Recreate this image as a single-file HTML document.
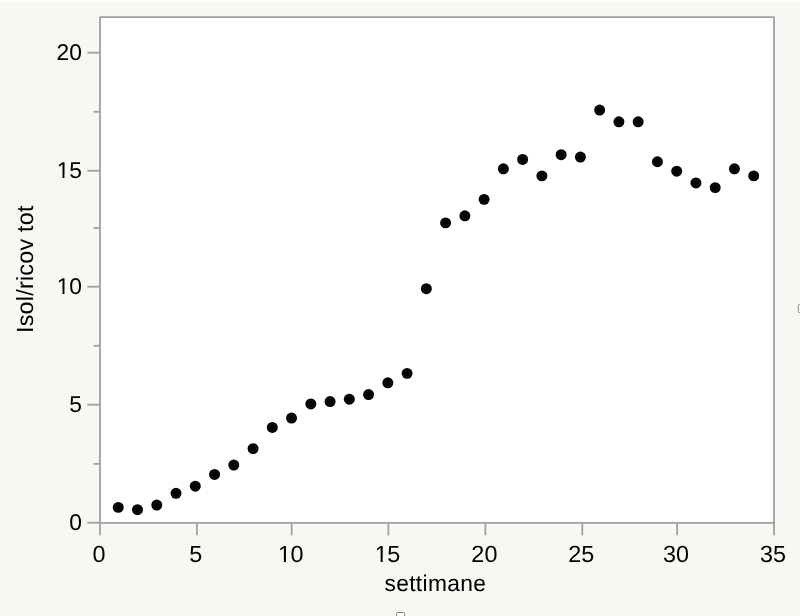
<!DOCTYPE html>
<html><head><meta charset="utf-8"><title>plot</title>
<style>
html,body{margin:0;padding:0;background:#f7f7f3;overflow:hidden}
svg{display:block;will-change:transform}
text{font-family:"Liberation Sans",sans-serif;font-size:23.4px;letter-spacing:0.1px;fill:#000;text-rendering:geometricPrecision}
</style></head><body>
<svg width="800" height="616" viewBox="0 0 800 616">
<rect x="100" y="17.1" width="674" height="505.7" fill="#fff" stroke="#a0a0a0" stroke-width="1.8" stroke-linejoin="round"/>
<g stroke="#a0a0a0" stroke-width="1.8" fill="none">
<line x1="87.3" x2="100" y1="522.70" y2="522.70"/>
<line x1="87.3" x2="100" y1="404.70" y2="404.70"/>
<line x1="87.3" x2="100" y1="286.70" y2="286.70"/>
<line x1="87.3" x2="100" y1="170.75" y2="170.75"/>
<line x1="87.3" x2="100" y1="52.70" y2="52.70"/>
<line x1="93.6" x2="100" y1="463.90" y2="463.90"/>
<line x1="93.6" x2="100" y1="345.80" y2="345.80"/>
<line x1="93.6" x2="100" y1="227.90" y2="227.90"/>
<line x1="93.6" x2="100" y1="111.80" y2="111.80"/>
<line y1="522.8" y2="535.2" x1="100.00" x2="100.00"/>
<line y1="522.8" y2="535.2" x1="196.90" x2="196.90"/>
<line y1="522.8" y2="535.2" x1="291.65" x2="291.65"/>
<line y1="522.8" y2="535.2" x1="388.40" x2="388.40"/>
<line y1="522.8" y2="535.2" x1="485.40" x2="485.40"/>
<line y1="522.8" y2="535.2" x1="582.30" x2="582.30"/>
<line y1="522.8" y2="535.2" x1="677.10" x2="677.10"/>
<line y1="522.8" y2="535.2" x1="774.00" x2="774.00"/>
</g>
<text x="82.10" y="530.20" text-anchor="end" style="font-size:22.8px">0</text>
<text x="82.10" y="412.20" text-anchor="end" style="font-size:22.8px">5</text>
<text x="81.50" y="294.20" text-anchor="end" style="font-size:22.8px"><tspan dx="0.45">1</tspan><tspan dx="-0.45">0</tspan></text>
<text x="81.50" y="178.25" text-anchor="end" style="font-size:22.8px"><tspan dx="0.45">1</tspan><tspan dx="-0.45">5</tspan></text>
<text x="82.10" y="60.20" text-anchor="end" style="font-size:22.8px">20</text>
<text x="99.00" y="561.7" text-anchor="middle">0</text>
<text x="195.90" y="561.7" text-anchor="middle">5</text>
<text x="290.35" y="561.7" text-anchor="middle"><tspan dx="0.45">1</tspan><tspan dx="-0.45">0</tspan></text>
<text x="387.10" y="561.7" text-anchor="middle"><tspan dx="0.45">1</tspan><tspan dx="-0.45">5</tspan></text>
<text x="484.40" y="561.7" text-anchor="middle">20</text>
<text x="581.30" y="561.7" text-anchor="middle">25</text>
<text x="676.10" y="561.7" text-anchor="middle">30</text>
<text x="773.00" y="561.7" text-anchor="middle">35</text>
<text x="435.4" y="591.3" text-anchor="middle" style="font-size:22.8px;letter-spacing:0.35px">settimane</text>
<text transform="translate(33.15 269.2) rotate(-90)" text-anchor="middle" style="letter-spacing:0.2px">Isol/ricov tot</text>
<g fill="#f7f7f3">
<rect x="57.29" y="291.40" width="5.20" height="3.40"/>
<rect x="64.49" y="291.40" width="5.02" height="3.40"/>
<rect x="57.29" y="175.40" width="5.20" height="3.40"/>
<rect x="64.49" y="175.40" width="5.02" height="3.40"/>
<rect x="278.58" y="559.40" width="5.30" height="3.40"/>
<rect x="285.94" y="559.40" width="5.10" height="3.40"/>
<rect x="375.34" y="559.40" width="5.29" height="3.40"/>
<rect x="382.68" y="559.40" width="5.11" height="3.40"/>
</g>
<rect x="0" y="0" width="800" height="1" fill="#fefefd"/>
<rect x="0" y="1" width="800" height="1" fill="#fff" opacity="0.3"/>
<g fill="#000">
<circle cx="118.26" cy="507.39" r="5.48"/><circle cx="118.26" cy="507.39" r="3.65" fill="none" stroke="#1b1b1b" stroke-width="0.6"/>
<circle cx="137.51" cy="509.74" r="5.48"/><circle cx="137.51" cy="509.74" r="3.65" fill="none" stroke="#1b1b1b" stroke-width="0.6"/>
<circle cx="156.77" cy="505.04" r="5.48"/><circle cx="156.77" cy="505.04" r="3.65" fill="none" stroke="#1b1b1b" stroke-width="0.6"/>
<circle cx="176.02" cy="493.28" r="5.48"/><circle cx="176.02" cy="493.28" r="3.65" fill="none" stroke="#1b1b1b" stroke-width="0.6"/>
<circle cx="195.28" cy="486.23" r="5.48"/><circle cx="195.28" cy="486.23" r="3.65" fill="none" stroke="#1b1b1b" stroke-width="0.6"/>
<circle cx="214.54" cy="474.47" r="5.48"/><circle cx="214.54" cy="474.47" r="3.65" fill="none" stroke="#1b1b1b" stroke-width="0.6"/>
<circle cx="233.79" cy="465.07" r="5.48"/><circle cx="233.79" cy="465.07" r="3.65" fill="none" stroke="#1b1b1b" stroke-width="0.6"/>
<circle cx="253.05" cy="448.61" r="5.48"/><circle cx="253.05" cy="448.61" r="3.65" fill="none" stroke="#1b1b1b" stroke-width="0.6"/>
<circle cx="272.30" cy="427.45" r="5.48"/><circle cx="272.30" cy="427.45" r="3.65" fill="none" stroke="#1b1b1b" stroke-width="0.6"/>
<circle cx="291.56" cy="418.04" r="5.48"/><circle cx="291.56" cy="418.04" r="3.65" fill="none" stroke="#1b1b1b" stroke-width="0.6"/>
<circle cx="310.82" cy="403.94" r="5.48"/><circle cx="310.82" cy="403.94" r="3.65" fill="none" stroke="#1b1b1b" stroke-width="0.6"/>
<circle cx="330.07" cy="401.58" r="5.48"/><circle cx="330.07" cy="401.58" r="3.65" fill="none" stroke="#1b1b1b" stroke-width="0.6"/>
<circle cx="349.33" cy="399.23" r="5.48"/><circle cx="349.33" cy="399.23" r="3.65" fill="none" stroke="#1b1b1b" stroke-width="0.6"/>
<circle cx="368.58" cy="394.53" r="5.48"/><circle cx="368.58" cy="394.53" r="3.65" fill="none" stroke="#1b1b1b" stroke-width="0.6"/>
<circle cx="387.84" cy="382.77" r="5.48"/><circle cx="387.84" cy="382.77" r="3.65" fill="none" stroke="#1b1b1b" stroke-width="0.6"/>
<circle cx="407.10" cy="373.37" r="5.48"/><circle cx="407.10" cy="373.37" r="3.65" fill="none" stroke="#1b1b1b" stroke-width="0.6"/>
<circle cx="426.35" cy="288.72" r="5.48"/><circle cx="426.35" cy="288.72" r="3.65" fill="none" stroke="#1b1b1b" stroke-width="0.6"/>
<circle cx="445.61" cy="222.88" r="5.48"/><circle cx="445.61" cy="222.88" r="3.65" fill="none" stroke="#1b1b1b" stroke-width="0.6"/>
<circle cx="464.86" cy="215.83" r="5.48"/><circle cx="464.86" cy="215.83" r="3.65" fill="none" stroke="#1b1b1b" stroke-width="0.6"/>
<circle cx="484.12" cy="199.37" r="5.48"/><circle cx="484.12" cy="199.37" r="3.65" fill="none" stroke="#1b1b1b" stroke-width="0.6"/>
<circle cx="503.38" cy="168.80" r="5.48"/><circle cx="503.38" cy="168.80" r="3.65" fill="none" stroke="#1b1b1b" stroke-width="0.6"/>
<circle cx="522.63" cy="159.40" r="5.48"/><circle cx="522.63" cy="159.40" r="3.65" fill="none" stroke="#1b1b1b" stroke-width="0.6"/>
<circle cx="541.89" cy="175.86" r="5.48"/><circle cx="541.89" cy="175.86" r="3.65" fill="none" stroke="#1b1b1b" stroke-width="0.6"/>
<circle cx="561.14" cy="154.70" r="5.48"/><circle cx="561.14" cy="154.70" r="3.65" fill="none" stroke="#1b1b1b" stroke-width="0.6"/>
<circle cx="580.40" cy="157.05" r="5.48"/><circle cx="580.40" cy="157.05" r="3.65" fill="none" stroke="#1b1b1b" stroke-width="0.6"/>
<circle cx="599.66" cy="110.02" r="5.48"/><circle cx="599.66" cy="110.02" r="3.65" fill="none" stroke="#1b1b1b" stroke-width="0.6"/>
<circle cx="618.91" cy="121.78" r="5.48"/><circle cx="618.91" cy="121.78" r="3.65" fill="none" stroke="#1b1b1b" stroke-width="0.6"/>
<circle cx="638.17" cy="121.78" r="5.48"/><circle cx="638.17" cy="121.78" r="3.65" fill="none" stroke="#1b1b1b" stroke-width="0.6"/>
<circle cx="657.42" cy="161.75" r="5.48"/><circle cx="657.42" cy="161.75" r="3.65" fill="none" stroke="#1b1b1b" stroke-width="0.6"/>
<circle cx="676.68" cy="171.16" r="5.48"/><circle cx="676.68" cy="171.16" r="3.65" fill="none" stroke="#1b1b1b" stroke-width="0.6"/>
<circle cx="695.94" cy="182.91" r="5.48"/><circle cx="695.94" cy="182.91" r="3.65" fill="none" stroke="#1b1b1b" stroke-width="0.6"/>
<circle cx="715.19" cy="187.62" r="5.48"/><circle cx="715.19" cy="187.62" r="3.65" fill="none" stroke="#1b1b1b" stroke-width="0.6"/>
<circle cx="734.45" cy="168.80" r="5.48"/><circle cx="734.45" cy="168.80" r="3.65" fill="none" stroke="#1b1b1b" stroke-width="0.6"/>
<circle cx="753.70" cy="175.86" r="5.48"/><circle cx="753.70" cy="175.86" r="3.65" fill="none" stroke="#1b1b1b" stroke-width="0.6"/>
</g>
<g fill="#fff" stroke="#fff" stroke-width="3.2">
<rect x="396.6" y="612.5" width="8" height="8" rx="1"/>
<rect x="798.3" y="304.6" width="8" height="7.9" rx="1"/>
</g>
<g fill="#fff" stroke="#7a7a7a" stroke-width="1">
<rect x="396.6" y="612.5" width="8" height="8" rx="1"/>
<rect x="798.3" y="304.6" width="8" height="7.9" rx="1"/>
</g>
</svg>
</body></html>
